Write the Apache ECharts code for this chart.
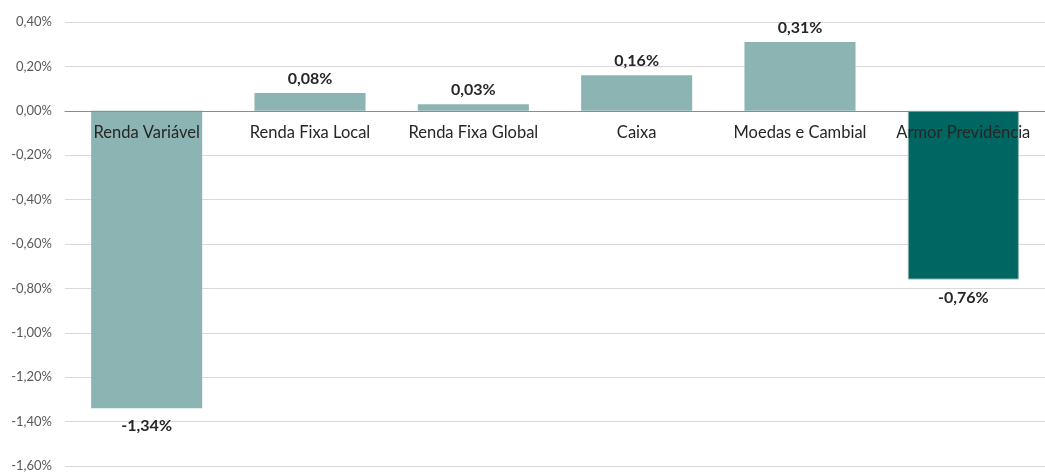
<!DOCTYPE html>
<html><head><meta charset="utf-8">
<script src="https://cdn.jsdelivr.net/npm/echarts@6/dist/echarts.min.js"></script>
<style>html,body{margin:0;padding:0;background:#fff}#c{width:1045px;height:473px}</style>
</head><body><div id="c"></div>
<script>
const categories = ["Renda Variável","Renda Fixa Local","Renda Fixa Global","Caixa","Moedas e Cambial","Armor Previdência"];
const values = [-1.34, 0.08, 0.03, 0.16, 0.31, -0.76];
const colors = ["#8cb4b2","#8cb4b2","#8cb4b2","#8cb4b2","#8cb4b2","#006661"];
const fmt = v => v.toFixed(2).replace('.', ',') + '%';
const font = 'Lato, "Open Sans", sans-serif';
const H = 473, TOP = 22, BOTTOM = 7, YMIN = -1.6, YMAX = 0.4;
const zeroOffset = -((H - TOP - BOTTOM) * (0 - YMIN) / (YMAX - YMIN));
const chart = echarts.init(document.getElementById('c'));
chart.setOption({
  animation:false,
  grid:{left:65,right:0,top:TOP,bottom:BOTTOM,containLabel:false,outerBoundsMode:'none'},
  xAxis:{type:'category',data:categories,offset:zeroOffset,z:10,
    axisLine:{onZero:false,lineStyle:{color:'#8c8c8c',width:1}},
    axisTick:{show:false},
    axisLabel:{interval:0,color:'#262626',fontSize:16.5,fontFamily:font,margin:13}},
  yAxis:{type:'value',min:YMIN,max:YMAX,interval:0.2,
    axisLine:{show:false},axisTick:{show:false},
    splitLine:{lineStyle:{color:'#d9d9d9'}},
    axisLabel:{color:'#595959',fontSize:13,fontFamily:font,margin:13,formatter:v=>fmt(v)}},
  series:[{type:'bar',barWidth:'68%',z:1,
    data:values.map((v,i)=>({value:v,
      itemStyle:{color:colors[i],borderColor:'#8cb4b2',borderWidth:i===5?1:0},
      label:{position:v>=0?'top':'bottom',distance:v>=0?6:10}})),
    label:{show:true,fontWeight:'bold',fontSize:16,color:'#262626',fontFamily:font,formatter:p=>fmt(p.value)}
  }]
});
</script></body></html>
